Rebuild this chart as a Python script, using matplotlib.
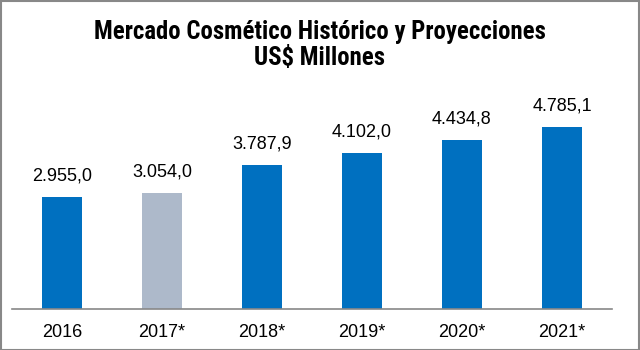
import matplotlib.pyplot as plt
from matplotlib.patches import Rectangle

years = ["2016", "2017*", "2018*", "2019*", "2020*", "2021*"]
values = [2955.0, 3054.0, 3787.9, 4102.0, 4434.8, 4785.1]
colors = ["#0070C0", "#ADB9CA", "#0070C0", "#0070C0", "#0070C0", "#0070C0"]

narrow = ["Liberation Sans Narrow", "Roboto Condensed", "Archivo Narrow",
          "Barlow Semi Condensed", "DejaVu Sans"]


def fmt(v):
    # formato latino: punto para miles, coma para decimales
    s = f"{v:,.1f}"
    return s.replace(",", "X").replace(".", ",").replace("X", ".")


fig = plt.figure(figsize=(6.4, 3.5), dpi=100)
ax = fig.add_axes([12 / 640, 41 / 350, 600 / 640, 228 / 350])

x = list(range(len(years)))
bars = ax.bar(x, values, width=0.4, color=colors, zorder=2)
for b, v in zip(bars, values):
    ax.annotate(fmt(v), (b.get_x() + b.get_width() / 2, v), xytext=(0, 9),
                textcoords="offset points", ha="center", va="bottom",
                fontsize=13, family="Liberation Sans", color="#000000")

ax.set_xlim(-0.5, 5.5)
ax.set_ylim(0, 6000)
ax.set_xticks(x)
ax.set_xticklabels(years, fontsize=13, family="Liberation Sans")
ax.tick_params(axis="x", length=0, pad=11)
ax.set_yticks([])
for s in ["top", "right", "left"]:
    ax.spines[s].set_visible(False)
ax.spines["bottom"].set_color("#888888")
ax.spines["bottom"].set_linewidth(1.2)

fig.text(0.5, 1 - 45 / 350, "Mercado Cosmético Histórico y Proyecciones\nUS$ Millones",
         ha="center", va="center", fontsize=17.8, fontweight="bold",
         family=narrow, linespacing=1.15)

fig.patches.append(Rectangle((0.5 / 640, 0.5 / 350), 638.5 / 640, 348.5 / 350,
                             transform=fig.transFigure, fill=False,
                             edgecolor="#888888", linewidth=1.5))

fig.savefig("out.png", dpi=100)
